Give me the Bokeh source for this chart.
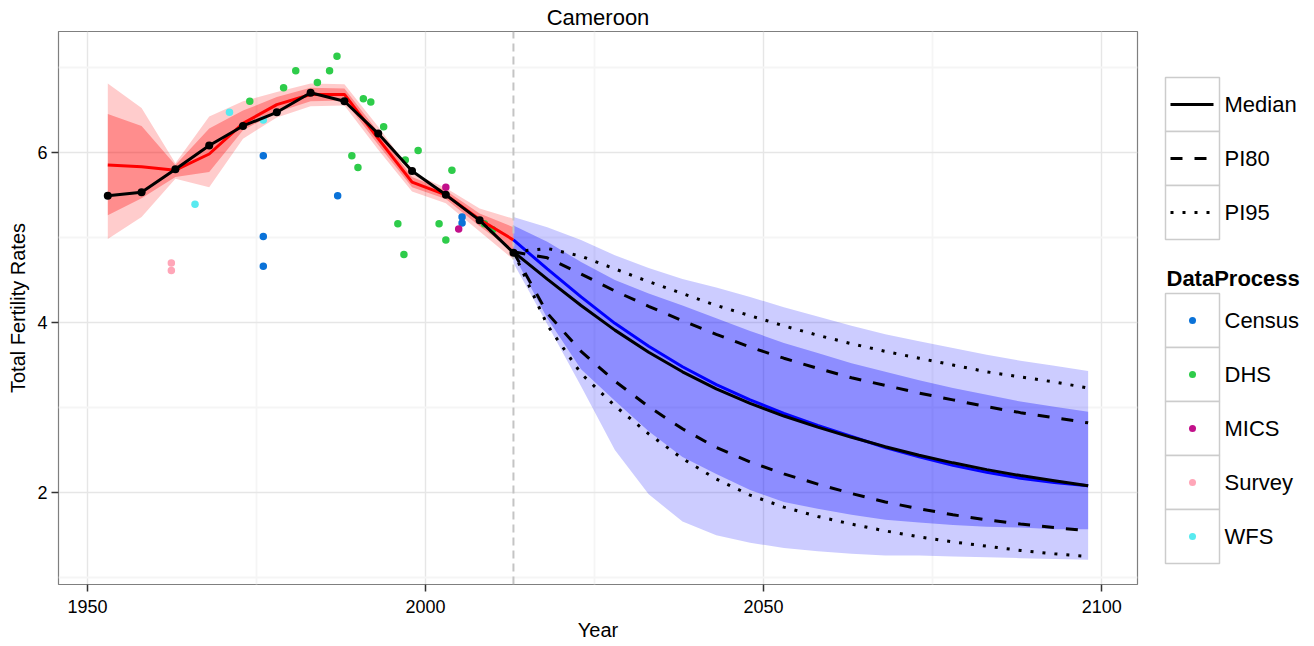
from bokeh.plotting import figure
from bokeh.models import Range1d, ColumnDataSource, FixedTicker
from bokeh.layouts import row
from bokeh.embed import file_html
from bokeh.resources import INLINE
from bokeh.core.properties import value

FONT = "Liberation Sans"

# ---------------- estimation period (1950-2015) ----------------
est_years = [1953, 1958, 1963, 1968, 1973, 1978, 1983, 1988, 1993, 1998, 2003, 2008, 2013]
wpp_tfr = [5.49, 5.53, 5.80, 6.08, 6.31, 6.47, 6.70, 6.60, 6.22, 5.78, 5.50, 5.20, 4.82]
est_median = [5.85, 5.83, 5.79, 5.98, 6.34, 6.56, 6.68, 6.68, 6.16, 5.65, 5.50, 5.21, 4.97]
est_hi95 = [6.81, 6.52, 5.87, 6.42, 6.60, 6.71, 6.81, 6.80, 6.30, 5.76, 5.58, 5.34, 5.22]
est_lo95 = [4.98, 5.24, 5.69, 5.59, 6.16, 6.41, 6.54, 6.55, 6.03, 5.54, 5.40, 5.07, 4.74]
est_hi80 = [6.45, 6.31, 5.85, 6.28, 6.49, 6.65, 6.76, 6.75, 6.24, 5.71, 5.55, 5.28, 5.12]
est_lo80 = [5.26, 5.46, 5.71, 5.77, 6.26, 6.47, 6.60, 6.61, 6.09, 5.59, 5.45, 5.13, 4.84]

# ---------------- projection period (2013-2100) ----------------
proj_years = [2013, 2018, 2023, 2028, 2033, 2038, 2043, 2048, 2053,
              2058, 2063, 2068, 2073, 2078, 2083, 2088, 2093, 2098]
proj_median = [4.97, 4.63, 4.30, 3.99, 3.72, 3.48, 3.27, 3.09, 2.93,
               2.79, 2.66, 2.53, 2.42, 2.32, 2.24, 2.17, 2.12, 2.08]
proj_hi80 = [5.14, 4.95, 4.71, 4.50, 4.34, 4.20, 4.05, 3.90, 3.76,
             3.64, 3.52, 3.42, 3.32, 3.23, 3.15, 3.07, 3.01, 2.95]
proj_lo80 = [4.80, 4.05, 3.45, 3.08, 2.72, 2.42, 2.22, 2.03, 1.89,
             1.81, 1.74, 1.68, 1.65, 1.62, 1.60, 1.59, 1.57, 1.57]
proj_hi95 = [5.24, 5.12, 4.97, 4.79, 4.64, 4.51, 4.41, 4.30, 4.18,
             4.07, 3.96, 3.86, 3.78, 3.70, 3.62, 3.55, 3.49, 3.43]
proj_lo95 = [4.70, 3.98, 3.25, 2.50, 1.98, 1.66, 1.50, 1.41, 1.35,
             1.31, 1.28, 1.26, 1.26, 1.25, 1.24, 1.23, 1.22, 1.21]

wpp_median = [4.83, 4.51, 4.20, 3.91, 3.65, 3.42, 3.22, 3.05, 2.90,
              2.77, 2.65, 2.54, 2.44, 2.35, 2.27, 2.20, 2.14, 2.08]
wpp_hi80 = [4.83, 4.76, 4.57, 4.37, 4.19, 4.02, 3.86, 3.71, 3.58,
            3.46, 3.35, 3.26, 3.17, 3.09, 3.01, 2.94, 2.88, 2.82]
wpp_lo80 = [4.83, 4.11, 3.66, 3.31, 3.01, 2.75, 2.53, 2.36, 2.22,
            2.10, 1.99, 1.89, 1.81, 1.74, 1.68, 1.63, 1.59, 1.55]
wpp_hi95 = [4.83, 4.87, 4.78, 4.63, 4.48, 4.34, 4.20, 4.08, 3.96,
            3.85, 3.75, 3.66, 3.58, 3.50, 3.42, 3.36, 3.30, 3.23]
wpp_lo95 = [4.83, 3.97, 3.40, 3.02, 2.69, 2.40, 2.16, 1.97, 1.83,
            1.72, 1.63, 1.55, 1.48, 1.42, 1.37, 1.32, 1.28, 1.25]

last_obs_year = 2013

# ---------------- observed data by data process ----------------
process_names = ["Census", "DHS", "MICS", "Survey", "WFS"]
process_colors = ["#0a72d8", "#2ecc4a", "#c2108a", "#ffa6b8", "#58eaf0"]
process_years = {
    "Census": [1976, 1976, 1976, 1987, 2005.4, 2005.4],
    "DHS": [1974.0, 1979.0, 1980.8, 1984.0, 1985.8, 1986.9, 1989.1, 1990.0, 1990.8, 1991.9,
            1993.8, 1995.9, 1996.8, 1997.0, 1998.9, 2002.0, 2003.0, 2003.9, 2008.7, 2009.9],
    "MICS": [2003.0, 2004.9],
    "Survey": [1962.4, 1962.4],
    "WFS": [1965.9, 1971.0, 1976.0],
}
process_tfr = {
    "Census": [5.96, 5.01, 4.66, 5.49, 5.24, 5.17],
    "DHS": [6.60, 6.76, 6.96, 6.82, 6.96, 7.13, 5.96, 5.82, 6.63, 6.59,
            6.30, 5.16, 4.80, 5.91, 6.02, 5.16, 4.97, 5.79, 5.16, 5.09],
    "MICS": [5.59, 5.10],
    "Survey": [4.70, 4.61],
    "WFS": [5.39, 6.47, 6.38],
}

interval_names = ["Median", "PI80", "PI95"]
interval_dashes = ["solid", "12 12", "3 9"]

x_ticks = [1950, 2000, 2050, 2100]
x_minor = [1975, 2025, 2075]
y_ticks = [2, 4, 6]
y_minor = [1, 3, 5, 7]

# ---------------- main panel ----------------
p = figure(width=1150, height=646, output_backend="svg", toolbar_location=None,
           x_range=Range1d(1945.71, 2105.3), y_range=Range1d(0.92, 7.42),
           min_border_left=58, min_border_right=13, min_border_top=31, min_border_bottom=62,
           title="Cameroon")
p.title.align = "center"
p.title.text_font = FONT
p.title.text_font_size = "22px"
p.title.text_font_style = "normal"
p.title.text_color = "black"
p.title.standoff = 4

p.outline_line_color = "#7f7f7f"
p.outline_line_width = 1.2
p.background_fill_color = "white"
p.border_fill_color = "white"

p.xaxis.ticker = FixedTicker(ticks=x_ticks, minor_ticks=x_minor)
p.yaxis.ticker = FixedTicker(ticks=y_ticks, minor_ticks=y_minor)
for ax in (p.xaxis, p.yaxis):
    ax.axis_line_color = None
    ax.minor_tick_line_color = None
    ax.major_tick_line_color = "#333333"
    ax.major_tick_line_width = 1.5
    ax.major_tick_out = 7
    ax.major_tick_in = 0
    ax.major_label_text_font = FONT
    ax.major_label_text_font_size = "18px"
    ax.major_label_text_color = "black"
    ax.axis_label_text_font = FONT
    ax.axis_label_text_font_size = "20px"
    ax.axis_label_text_font_style = "normal"
    ax.axis_label_text_color = "black"
p.xaxis.axis_label = "Year"
p.yaxis.axis_label = "Total Fertility Rates"
p.xaxis.major_label_standoff = 8
p.xaxis.axis_label_standoff = 3
p.yaxis.major_label_standoff = 4
p.yaxis.axis_label_standoff = 5

p.grid.grid_line_color = "#e6e6e6"
p.grid.grid_line_width = 1.4
p.grid.minor_grid_line_color = "#f5f5f5"
p.grid.minor_grid_line_width = 1.8

# uncertainty bands
est = ColumnDataSource(dict(x=est_years, med=est_median, lo95=est_lo95, hi95=est_hi95,
                            lo80=est_lo80, hi80=est_hi80, wpp=wpp_tfr))
proj = ColumnDataSource(dict(x=proj_years, med=proj_median, lo95=proj_lo95, hi95=proj_hi95,
                             lo80=proj_lo80, hi80=proj_hi80, wmed=wpp_median,
                             wlo80=wpp_lo80, whi80=wpp_hi80, wlo95=wpp_lo95, whi95=wpp_hi95))

p.varea(x="x", y1="lo95", y2="hi95", source=est, fill_color="red", fill_alpha=0.2)
p.varea(x="x", y1="lo80", y2="hi80", source=est, fill_color="red", fill_alpha=0.31)
p.varea(x="x", y1="lo95", y2="hi95", source=proj, fill_color="blue", fill_alpha=0.2)
p.varea(x="x", y1="lo80", y2="hi80", source=proj, fill_color="blue", fill_alpha=0.31)

# boundary between estimates and projections
p.line(x=[last_obs_year, last_obs_year], y=[0.92, 7.42], line_color="#c4c4c4",
       line_width=2, line_dash="8 5")

# observed data points
for name, color in zip(process_names, process_colors):
    p.scatter(x=process_years[name], y=process_tfr[name], size=7.5,
              fill_color=color, line_color=None)

# medians
p.line(x="x", y="med", source=est, line_color="red", line_width=3)
p.line(x="x", y="med", source=proj, line_color="blue", line_width=3)

# comparison projection
p.line(x="x", y="wmed", source=proj, line_color="black", line_width=3)
p.line(x="x", y="whi80", source=proj, line_color="black", line_width=3, line_dash=interval_dashes[1])
p.line(x="x", y="wlo80", source=proj, line_color="black", line_width=3, line_dash=interval_dashes[1])
p.line(x="x", y="whi95", source=proj, line_color="black", line_width=3, line_dash=interval_dashes[2])
p.line(x="x", y="wlo95", source=proj, line_color="black", line_width=3, line_dash=interval_dashes[2])

p.line(x="x", y="wpp", source=est, line_color="black", line_width=3)
p.scatter(x="x", y="wpp", source=est, size=8, fill_color="black", line_color=None)

# ---------------- legend panel ----------------
# the row aligns this frame with the main frame (31..584), so the range
# is set to that span to keep the coordinates in page pixels
leg = figure(width=164, height=646, output_backend="svg", toolbar_location=None,
             x_range=Range1d(0, 164), y_range=Range1d(584, 31),
             x_axis_type=None, y_axis_type=None,
             min_border_left=0, min_border_right=0, min_border_top=31, min_border_bottom=62)
leg.grid.visible = False
leg.outline_line_color = None
leg.background_fill_color = "white"
leg.border_fill_color = "white"

key_left, key_w, key_h = 15, 54, 54
label_x = 74

# line type legend
top = 77
for i, (name, dash) in enumerate(zip(interval_names, interval_dashes)):
    y0 = top + i * key_h
    leg.quad(left=key_left, right=key_left + key_w, top=y0, bottom=y0 + key_h,
             fill_color="white", line_color="#cccccc", line_width=1.5)
    leg.line(x=[key_left + 5, key_left + key_w - 6], y=[y0 + key_h / 2] * 2,
             line_color="black", line_width=3, line_dash=dash)
    leg.text(x=[label_x], y=[y0 + key_h / 2], text=[name], text_font=value(FONT),
             text_font_size="22px", text_baseline="middle", text_align="left",
             text_color="black")

# data process legend
leg.text(x=[key_left + 1], y=[278], text=["DataProcess"], text_font=value(FONT),
         text_font_size="22px", text_font_style="bold", text_baseline="middle",
         text_color="black")
top = 293
for i, (name, color) in enumerate(zip(process_names, process_colors)):
    y0 = top + i * key_h
    leg.quad(left=key_left, right=key_left + key_w, top=y0, bottom=y0 + key_h,
             fill_color="white", line_color="#cccccc", line_width=1.5)
    leg.scatter(x=[key_left + key_w / 2], y=[y0 + key_h / 2], size=7,
                fill_color=color, line_color=None)
    leg.text(x=[label_x], y=[y0 + key_h / 2], text=[name], text_font=value(FONT),
             text_font_size="22px", text_baseline="middle", text_align="left",
             text_color="black")

layout = row(p, leg)
open("out.html", "w").write(file_html(layout, INLINE))
